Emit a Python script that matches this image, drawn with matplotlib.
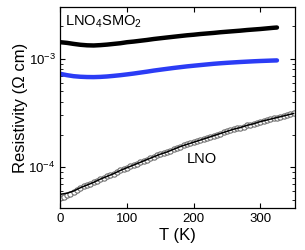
import matplotlib
matplotlib.use("Agg")
import matplotlib.pyplot as plt

plt.rcParams['font.family'] = ['Liberation Sans', 'DejaVu Sans']
plt.rcParams['mathtext.fontset'] = 'custom'
plt.rcParams['mathtext.rm'] = 'Liberation Sans'
plt.rcParams['mathtext.it'] = 'Liberation Sans:italic'
plt.rcParams['mathtext.bf'] = 'Liberation Sans:bold'

# LNO4SMO2 (black) and the blue film, T in K, rho in Ohm cm
T_smo = [0, 10, 20, 30, 40, 50, 60, 70, 80, 90, 100, 110, 120, 130, 140, 150,
         160, 170, 180, 190, 200, 210, 220, 230, 240, 250, 260, 270, 280, 290,
         300, 310, 320, 325]
rho_smo = [1.42e-3, 1.40e-3, 1.37e-3, 1.345e-3, 1.33e-3, 1.325e-3, 1.335e-3,
           1.35e-3, 1.37e-3, 1.39e-3, 1.42e-3, 1.44e-3, 1.465e-3, 1.49e-3,
           1.52e-3, 1.545e-3, 1.57e-3, 1.595e-3, 1.62e-3, 1.645e-3, 1.665e-3,
           1.69e-3, 1.71e-3, 1.73e-3, 1.755e-3, 1.775e-3, 1.795e-3, 1.815e-3,
           1.84e-3, 1.86e-3, 1.88e-3, 1.905e-3, 1.93e-3, 1.94e-3]
rho_blue = [7.25e-4, 7.05e-4, 6.90e-4, 6.82e-4, 6.78e-4, 6.77e-4, 6.80e-4,
            6.86e-4, 6.95e-4, 7.05e-4, 7.17e-4, 7.30e-4, 7.45e-4, 7.60e-4,
            7.77e-4, 7.92e-4, 8.07e-4, 8.22e-4, 8.36e-4, 8.50e-4, 8.62e-4,
            8.74e-4, 8.86e-4, 8.98e-4, 9.08e-4, 9.17e-4, 9.25e-4, 9.33e-4,
            9.40e-4, 9.47e-4, 9.53e-4, 9.58e-4, 9.63e-4, 9.65e-4]

# LNO fit line
T_lno = [0, 10, 20, 30, 40, 50, 60, 70, 80, 90, 100, 110, 120, 130, 140, 150,
         160, 170, 180, 190, 200, 210, 220, 230, 240, 250, 260, 270, 280, 290,
         300, 310, 320, 330, 340, 350]
rho_lno = [5.62e-5, 5.75e-5, 6.03e-5, 6.46e-5, 6.84e-5, 7.24e-5, 7.76e-5,
           8.22e-5, 8.71e-5, 9.33e-5, 9.89e-5, 1.047e-4, 1.109e-4, 1.175e-4,
           1.245e-4, 1.318e-4, 1.380e-4, 1.462e-4, 1.549e-4, 1.622e-4,
           1.698e-4, 1.778e-4, 1.862e-4, 1.950e-4, 2.042e-4, 2.138e-4,
           2.239e-4, 2.317e-4, 2.427e-4, 2.512e-4, 2.630e-4, 2.723e-4,
           2.818e-4, 2.917e-4, 3.020e-4, 3.126e-4]

# LNO measured points (open circles)
T_pts = list(range(0, 355, 5))
rho_pts = [5.20e-5, 5.32e-5, 5.48e-5, 5.68e-5, 5.90e-5, 6.15e-5, 6.40e-5,
           6.64e-5, 6.84e-5, 7.04e-5, 7.24e-5, 7.50e-5, 7.76e-5, 7.99e-5,
           8.22e-5, 8.46e-5, 8.71e-5, 9.01e-5, 9.33e-5, 9.61e-5, 9.89e-5,
           1.018e-4, 1.047e-4, 1.078e-4, 1.109e-4, 1.141e-4, 1.175e-4,
           1.210e-4, 1.245e-4, 1.281e-4, 1.318e-4, 1.349e-4, 1.380e-4,
           1.420e-4, 1.462e-4, 1.505e-4, 1.549e-4, 1.585e-4, 1.622e-4,
           1.660e-4, 1.698e-4, 1.738e-4, 1.778e-4, 1.820e-4, 1.862e-4,
           1.905e-4, 1.950e-4, 1.995e-4, 2.042e-4, 2.089e-4, 2.138e-4,
           2.188e-4, 2.239e-4, 2.278e-4, 2.317e-4, 2.371e-4, 2.427e-4,
           2.469e-4, 2.512e-4, 2.570e-4, 2.630e-4, 2.676e-4, 2.723e-4,
           2.770e-4, 2.818e-4, 2.867e-4, 2.917e-4, 2.968e-4, 3.020e-4,
           3.073e-4, 3.126e-4]

fig = plt.figure(figsize=(3.05, 2.5), dpi=100)
ax = fig.add_axes([0.198, 0.168, 0.769, 0.804])

ax.plot(T_smo, rho_smo, color='black', lw=3.2, solid_capstyle='round')
ax.plot(T_smo, rho_blue, color='#2b3cf5', lw=3.2, solid_capstyle='round')
ax.plot(T_pts, rho_pts, 'o', ms=3.8, mfc='white', mec='#707070', mew=0.8)
ax.plot(T_lno, rho_lno, color='black', lw=1.1)

ax.set_yscale('log')
ax.set_xlim(0, 352)
ax.set_ylim(4.2e-5, 3.0e-3)
ax.set_xticks([0, 100, 200, 300])

ax.tick_params(which='both', direction='in', top=True, right=True, labelsize=9.5)
ax.tick_params(which='major', length=3.5, width=0.8)
ax.tick_params(which='minor', length=2, width=0.6)
for s in ax.spines.values():
    s.set_linewidth(0.9)

ax.set_xlabel('T (K)', fontsize=12, labelpad=2)
ax.set_ylabel('Resistivity (\u03a9 cm)', fontsize=12, labelpad=0)

ax.text(0.02, 0.925, 'LNO$_4$SMO$_2$', transform=ax.transAxes, fontsize=10.5,
        va='center', ha='left')
ax.text(190, 1.2e-4, 'LNO', fontsize=10.5, va='center', ha='left')

fig.savefig('out.png', dpi=100)
